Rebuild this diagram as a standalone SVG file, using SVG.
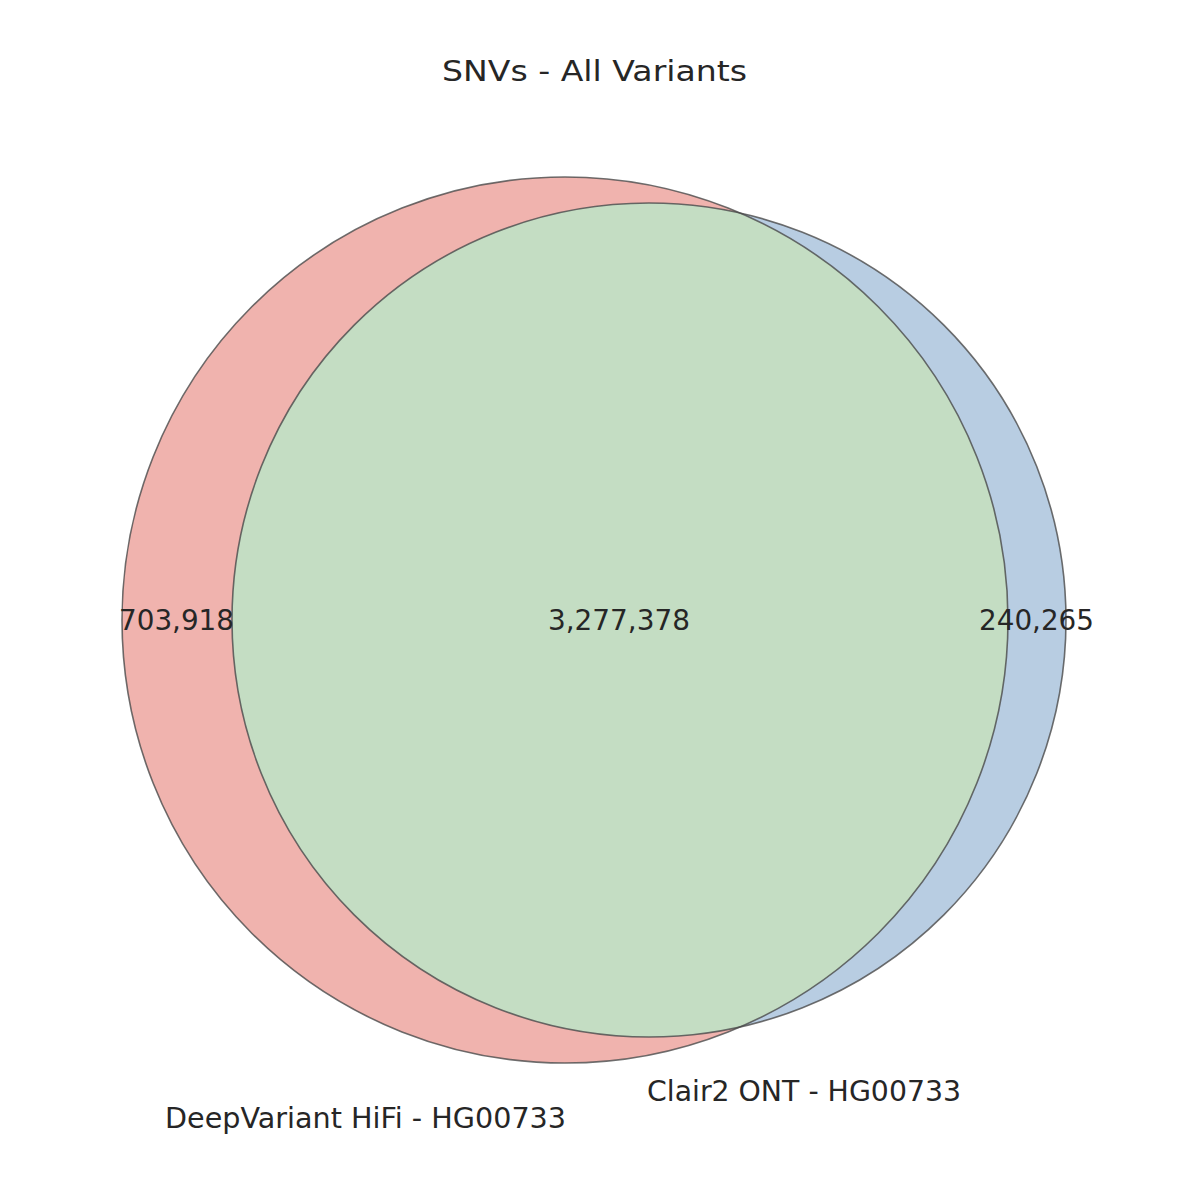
<svg xmlns="http://www.w3.org/2000/svg" width="1200" height="1200" viewBox="0 0 1200 1200">
<style>
text{font-family:"DejaVu Sans","Liberation Sans",sans-serif;fill:#262626;}
.lbl{font-size:28px;text-anchor:middle;}
.edge{fill:none;stroke:#4a4a4a;stroke-width:1.6;stroke-opacity:0.8;}
</style>
<defs>
<clipPath id="clipA"><circle cx="565" cy="620" r="443"/></clipPath>
</defs>
<rect width="1200" height="1200" fill="#ffffff"/>
<text x="594.5" y="81" style="font-size:29px;text-anchor:middle;" textLength="305" lengthAdjust="spacingAndGlyphs">SNVs - All Variants</text>
<g id="setA"><circle cx="565" cy="620" r="443" fill="#f0b3ae"/></g>
<g id="setB"><circle cx="649" cy="620" r="417" fill="#b8cde2"/></g>
<g id="setAB"><circle cx="649" cy="620" r="417" fill="#c4ddc3" clip-path="url(#clipA)"/></g>
<g id="outlines">
<circle class="edge" cx="565" cy="620" r="443"/>
<circle class="edge" cx="649" cy="620" r="417"/>
</g>
<text class="lbl" x="176.5" y="630" textLength="115" lengthAdjust="spacingAndGlyphs">703,918</text>
<text class="lbl" x="619" y="630" textLength="142" lengthAdjust="spacingAndGlyphs">3,277,378</text>
<text class="lbl" x="1036.5" y="630" textLength="115" lengthAdjust="spacingAndGlyphs">240,265</text>
<text class="lbl" x="365.5" y="1128" textLength="401" lengthAdjust="spacingAndGlyphs">DeepVariant HiFi - HG00733</text>
<text class="lbl" x="804" y="1101" textLength="314" lengthAdjust="spacingAndGlyphs">Clair2 ONT - HG00733</text>
</svg>
